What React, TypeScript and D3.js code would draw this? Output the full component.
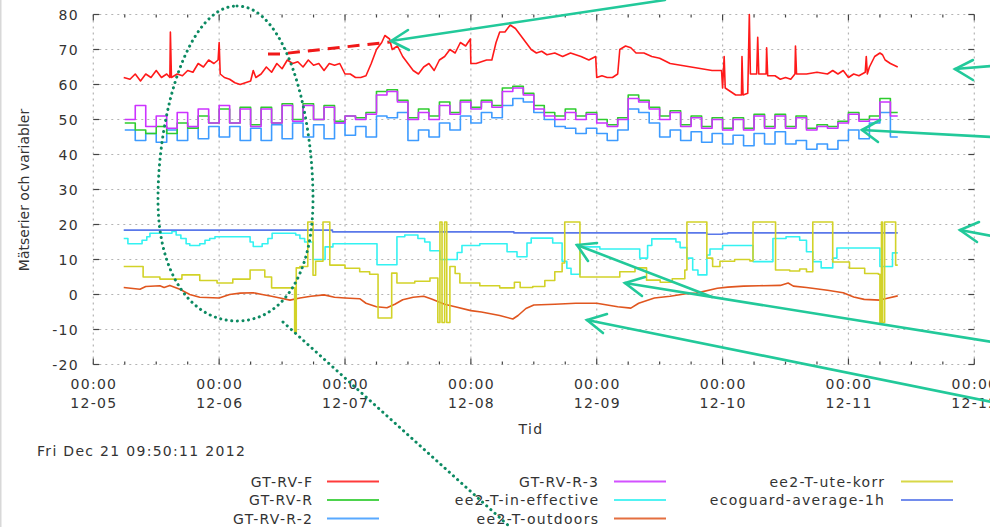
import React from 'react';
import * as d3 from 'd3';

const W = 990, H = 527;

// ---------- axis data ----------
const DAY_LABELS = ['12-05', '12-06', '12-07', '12-08', '12-09', '12-10', '12-11', '12-12'];
const Y_TICKS = [-20, -10, 0, 10, 20, 30, 40, 50, 60, 70, 80];
const TIME_LABEL = '00:00';

// ---------- series (hours since 12-05 00:00) ----------
const END_HOUR = 153.4;
const SAMPLE_START = 6;
const SAMPLE_STEP = 2;

const GT_RV_F: [number, number][] = [
  [5.8, 62], [7, 61.5], [8, 63], [9, 61], [10, 63], [11, 62], [12, 64], [13, 62], [14, 63], [14.6, 62], [14.7, 75], [14.9, 62],
  [16, 63], [17, 62.5], [18, 64], [19, 63.5], [20, 66], [21, 65], [22, 67], [23, 66], [23.8, 67], [24, 72], [24.2, 63],
  [25, 62], [26, 61.5], [27, 60.5], [28, 60], [29, 60.5], [30, 61], [30.5, 64], [31, 62], [32, 63], [33, 65], [34, 63.5],
  [35, 66], [36, 64.5], [37, 67], [38, 66], [39, 66.5], [40, 65], [41, 67], [42, 65.5], [43, 66], [44, 64], [45, 66],
  [46, 65.5], [47, 66], [48, 63], [49, 63], [50, 62], [51, 62], [52, 62.5], [53, 66], [54, 70], [55, 72], [55.6, 74],
  [56.5, 73], [57, 70], [58, 71], [59, 68], [60, 66], [61, 64], [62, 63], [63, 65], [64, 66], [65, 64], [66, 67], [67, 68],
  [68, 70], [69, 69], [70, 72], [71, 71], [71.9, 73], [72, 66], [73, 66], [74, 66.5], [75, 67], [76, 67], [76.8, 72],
  [77.5, 75], [78.5, 75], [79.5, 77], [80.5, 76], [81.5, 74], [82.5, 72], [83.5, 70], [84.5, 69], [85.5, 69.5], [86.5, 68.5],
  [88, 69], [89.5, 68], [91, 69], [93, 68], [94.5, 67], [95.8, 68], [96, 62], [97, 62.5], [98, 62], [99, 62], [100, 63],
  [100.4, 70], [101.5, 71], [102.5, 70.5], [103.5, 69], [105, 69], [106.5, 68], [108, 67.5], [110, 66], [112, 65.5],
  [114, 65], [116, 64.5], [118, 64], [119.8, 64], [120, 59], [120.3, 68], [120.5, 59], [121.5, 58], [122.5, 57],
  [123.6, 57], [123.7, 68], [123.9, 57], [124.8, 57.5], [125.1, 80], [125.3, 63], [126.5, 63], [126.7, 73.5], [126.9, 63],
  [128.3, 63], [128.4, 70.5], [128.6, 62.5], [130, 62.5], [131, 61.5], [132, 62], [133, 61.5], [133.8, 63], [133.9, 71],
  [134.1, 63], [136, 63], [138, 63.5], [140, 63], [141, 64], [142, 63], [143, 64], [144, 62], [145, 63], [146, 62.5],
  [147.2, 63.5], [147.4, 68], [147.6, 63], [148, 65], [149, 68], [150, 69], [150.5, 68.5], [151, 67], [152, 66], [153.4, 65],
];

const GT_RV_R = [
  49, 47, 46, 48, 46, 49, 47.5, 51, 49, 53,
  49, 53.5, 48.5, 53.5, 49, 54.5, 50, 54.5, 50, 54,
  49.5, 51, 50.5, 52, 58, 58.5, 55.5, 50.5, 53, 51,
  55, 52, 55.5, 53.5, 55.5, 54, 59, 59.5, 57.5, 54,
  52, 51, 53, 51, 52, 50, 48.5, 50.5, 57, 55.5,
  53.5, 51, 52.5, 48.5, 51, 48, 50.5, 47.5, 50.5, 47.5,
  51.5, 48, 51.5, 48, 51, 47.5, 48.5, 48, 49.5, 52,
  50, 51, 56, 52,
];

const GT_RV_R_2 = [
  47, 44, 46, 43.5, 47, 44, 47.5, 44.5, 48, 45,
  48, 44, 47.5, 44, 48.5, 44.5, 49, 45, 48.5, 44.5,
  49, 45.5, 48, 45, 51, 50.5, 52, 44, 47, 45,
  49, 47, 51, 49, 52, 50.5, 54, 56, 55, 52,
  50, 48, 47.5, 46, 47.5, 46, 44, 47, 53, 52,
  49, 45, 47, 44, 46.5, 43.5, 46, 43, 45.5, 42.5,
  46, 43, 46.5, 43, 44, 41.5, 43, 41.5, 44, 47,
  44.5, 49, 52, 45,
];

const GT_RV_R_3 = [
  50, 54, 48, 51, 47.5, 52, 48, 53, 49, 54,
  49, 53, 48, 53, 49, 54, 49.5, 54, 50, 53.5,
  49, 51, 50, 51.5, 57, 58, 55, 50, 52, 50,
  54, 51.5, 55, 53, 55, 53.5, 58, 59, 57, 53,
  51, 50, 52, 50, 51.5, 49, 48, 50, 56, 55,
  53, 50, 52, 48, 50.5, 47.5, 50, 47, 50, 47,
  51, 47.5, 51, 47.5, 50.5, 47, 48, 47.5, 49, 51.5,
  49.5, 50, 55, 51,
];

const EE2_T_IN_EFFECTIVE: [number, number][] = [
  [5.8, 16], [6.6, 14.5], [9.3, 15.5], [10.2, 16.5], [10.8, 17.5], [15, 18], [15.8, 17], [16.7, 16], [17.7, 14.5],
  [18.4, 14], [20.3, 14.5], [21.3, 15.5], [22.2, 16], [23.2, 16.5], [29.9, 15], [30.5, 13.7], [32.2, 14.5], [33.3, 16],
  [34.1, 17.5], [38.6, 17], [39.4, 16], [40.3, 15], [41.9, 10], [44.2, 13.6], [45.7, 14.5], [54.1, 8.5], [57.9, 16.5],
  [59.4, 17], [61.9, 16], [63.2, 15], [64.2, 12.5], [66.1, 10], [69.4, 12], [70.3, 14], [73.7, 14.5], [78.9, 12.2],
  [80.8, 10.8], [82.7, 14.7], [83.5, 16.1], [87.6, 14.7], [89.4, 9.5], [90.3, 7.5], [91.1, 5.8], [92.8, 13.6], [96.6, 13],
  [104.2, 10.4], [105.7, 14], [106.5, 15.9], [111.1, 15], [111.9, 13.4], [113.2, 10.4], [114.3, 7], [115.3, 5.6],
  [117, 11.3], [117.6, 13], [120, 14], [125.8, 9.4], [129.6, 16], [132.1, 16.5], [134.7, 15.5], [136, 12.2], [137.2, 9.4],
  [138.8, 7.6], [141, 10.4], [141.8, 13.3], [150, 8], [152.4, 11.9], [153.4, 11.9],
];

const EE2_T_OUTDOORS: [number, number][] = [
  [5.8, 2], [8.9, 1.5], [10, 2.3], [12.7, 2.5], [13.5, 2], [14.6, 2.6], [16.5, 1.5], [18.4, 0], [20.3, -0.8], [24, -1],
  [26, 0], [28, 0.4], [30.5, 0.5], [32.2, 0], [34, -0.5], [35.6, -1], [37.5, -1.6], [39.4, -1], [41.5, -0.5], [44, -0.1],
  [46, -0.8], [48, -1], [50.8, -1.2], [52, -2.5], [54, -3.5], [56, -3.8], [57.5, -2.8], [59, -1.5], [61, -0.8], [63, -0.5],
  [64.5, -1.3], [67, -2.8], [69, -3.5], [72, -4.6], [74, -5], [77.5, -6], [80, -7], [81, -6], [82.5, -4], [84, -3],
  [88, -2.8], [92, -2.5], [96, -2.5], [100, -3.5], [102.5, -3.9], [104, -2.5], [107, -1], [110, -0.5], [113, 0.2],
  [115, 0.4], [119, 1.8], [121, 2.1], [124, 2.4], [127, 2.5], [131, 2.6], [132.5, 3.3], [133.5, 2.4], [136, 2], [140, 1.2],
  [143, 0.5], [145, -0.7], [147, -1.4], [150, -1.6], [151, -1.2], [153.4, -0.4],
];

const EE2_T_UTE_KORR: [number, number][] = [
  [5.8, 8], [9.5, 5], [12.7, 4.4], [16.9, 5.6], [20.3, 4], [23.6, 3.3], [26.6, 4.4], [29.9, 7], [32.7, 5], [34, 1.9],
  [38.4, -11], [38.7, 7.6], [39.4, 8], [40.9, 20.7], [41.9, 5.5], [42.4, 9.5], [43.8, 20.7], [45.1, 8.4], [48, 7.5],
  [50.8, 6.5], [52.7, 5.8], [54.3, -6.7], [56.9, 6.1], [57.9, 3.3], [61.3, 3.8], [64.2, 4.7], [65.7, -8], [66.1, 20.7],
  [66.5, -8], [67, 20.7], [67.4, -8], [68, 8], [69, 6], [69.9, 3.3], [73.7, 2.5], [77.5, 1.9], [80.3, 3.5], [81.4, 2],
  [83.8, 2.3], [86.1, 4], [88, 6.5], [89.4, 9], [89.9, 20.7], [92.8, 5], [100.4, 6.5], [103.3, 7.6], [105.5, 4.1],
  [108.1, 3.5], [110.4, 4.5], [112.8, 7], [113.2, 20.7], [117, 10.4], [118.1, 8], [119.5, 9.5], [122.3, 10],
  [125.2, 9.6], [125.8, 20.7], [130.1, 7], [132.8, 6.7], [134.7, 7.3], [136, 6.5], [137.2, 20.7], [141, 9.3],
  [144.2, 7.5], [147.1, 6], [149.7, 5.8], [150, -8], [150.3, 20.7], [150.5, -8], [150.9, 20.7], [153, 8.4], [153.4, 8.4],
];

const ECOGUARD_AVERAGE_1H: [number, number][] = [
  [5.8, 18.4], [45.6, 17.9], [80.2, 17.6], [117, 17.2], [120, 17.4], [121, 17.6], [153.4, 17.6],
];

const SERIES_NAMES = [
  'GT-RV-F', 'GT-RV-R', 'GT-RV-R-2', 'GT-RV-R-3',
  'ee2-T-in-effective', 'ee2-T-outdoors', 'ee2-T-ute-korr', 'ecoguard-average-1h',
];

const COLORS: Record<string, string> = {
  'GT-RV-F': '#ff1a1a',
  'GT-RV-R': '#2ecc2e',
  'GT-RV-R-2': '#3d9bff',
  'GT-RV-R-3': '#cc33ff',
  'ee2-T-in-effective': '#33f2f2',
  'ee2-T-outdoors': '#e0561f',
  'ee2-T-ute-korr': '#d2d228',
  'ecoguard-average-1h': '#5a78ea',
};

const FONT = 'DejaVu Sans, Verdana, sans-serif';
const TXT = '#333';
const GREEN = '#22c99a';
const DARKGREEN = '#0c8a62';

function sampled(vals: number[]): [number, number][] {
  const pts: [number, number][] = vals.map((v, i) => [SAMPLE_START + i * SAMPLE_STEP, v]);
  pts.push([END_HOUR, vals[vals.length - 1]]);
  return pts;
}

export default function App() {
  const x = d3.scaleLinear().domain([0, 168]).range([93.3, 974.3]);
  const y = d3.scaleLinear().domain([-20, 80]).range([364.5, 14.5]);
  const left = x(0), right = x(168), top = y(80), bottom = y(-20);

  const step = d3.line<[number, number]>().x(d => x(d[0])).y(d => y(d[1])).curve(d3.curveStepAfter);
  const lin = d3.line<[number, number]>().x(d => x(d[0])).y(d => y(d[1]));

  const series: { name: string; d: string }[] = [
    { name: 'GT-RV-F', d: lin(GT_RV_F)! },
    { name: 'GT-RV-R-2', d: step(sampled(GT_RV_R_2))! },
    { name: 'GT-RV-R', d: step(sampled(GT_RV_R))! },
    { name: 'GT-RV-R-3', d: step(sampled(GT_RV_R_3))! },
    { name: 'ee2-T-in-effective', d: step(EE2_T_IN_EFFECTIVE)! },
    { name: 'ee2-T-outdoors', d: lin(EE2_T_OUTDOORS)! },
    { name: 'ecoguard-average-1h', d: step(ECOGUARD_AVERAGE_1H)! },
    { name: 'ee2-T-ute-korr', d: step(EE2_T_UTE_KORR)! },
  ];

  const dayHours = DAY_LABELS.map((_, i) => i * 24);
  const minorHours = d3.range(0, 168 + 1, 6).filter(h => h % 24 !== 0);

  const textStyle = { fontFamily: FONT, fontSize: 14, fill: TXT, letterSpacing: '1.3px' } as const;

  const legendCols = [
    { endX: 312, lineX: 327, names: SERIES_NAMES.slice(0, 3) },
    { endX: 598, lineX: 614, names: SERIES_NAMES.slice(3, 6) },
    { endX: 884, lineX: 901, names: SERIES_NAMES.slice(6, 8) },
  ];
  const legendRows = [486.5, 505, 523.5];

  const arrow = (tx: number, ty: number, ex: number, ey: number, w1: [number, number], w2: [number, number], key: string) => (
    <g key={key} stroke={GREEN} strokeWidth={2.6} fill="none" strokeLinecap="round">
      <line x1={tx} y1={ty} x2={ex} y2={ey} />
      <polyline points={`${w1[0]},${w1[1]} ${tx},${ty} ${w2[0]},${w2[1]}`} />
    </g>
  );

  return (
    <svg width={W} height={H} style={{ position: 'absolute', left: 0, top: 0, background: '#fff' }}>
      <rect x={0} y={0} width={W} height={H} fill="#fff" />
      <line x1={0.5} y1={0} x2={0.5} y2={H} stroke="#d8d8d8" strokeWidth={2} />

      {/* grid */}
      <g stroke="#b4b4b4" strokeWidth={1.2} strokeDasharray="2,4">
        {Y_TICKS.map(t => (
          <line key={'gy' + t} x1={left} x2={right} y1={y(t)} y2={y(t)} />
        ))}
        {dayHours.map(h => (
          <line key={'gx' + h} x1={x(h)} x2={x(h)} y1={top} y2={bottom} />
        ))}
      </g>

      {/* ticks */}
      <g stroke="#444" strokeWidth={1.2}>
        {Y_TICKS.map(t => (
          <g key={'ty' + t}>
            <line x1={left} x2={left + 6} y1={y(t)} y2={y(t)} />
            <line x1={right - 6} x2={right} y1={y(t)} y2={y(t)} />
          </g>
        ))}
        {dayHours.map(h => (
          <g key={'tx' + h}>
            <line x1={x(h)} x2={x(h)} y1={bottom} y2={bottom - 6} />
            <line x1={x(h)} x2={x(h)} y1={top} y2={top + 6} />
          </g>
        ))}
        {minorHours.map(h => (
          <g key={'mx' + h}>
            <line x1={x(h)} x2={x(h)} y1={bottom} y2={bottom - 3} />
            <line x1={x(h)} x2={x(h)} y1={top} y2={top + 3} />
          </g>
        ))}
      </g>

      {/* y tick labels */}
      {Y_TICKS.map(t => (
        <text key={'ly' + t} x={79} y={y(t) + 5} textAnchor="end" style={{ ...textStyle }}>{t}</text>
      ))}
      {/* x tick labels */}
      {DAY_LABELS.map((lab, i) => (
        <g key={'lx' + lab}>
          <text x={x(i * 24) + 0.6} y={389} textAnchor="middle" style={{ ...textStyle }}>{TIME_LABEL}</text>
          <text x={x(i * 24) + 0.6} y={407.5} textAnchor="middle" style={{ ...textStyle }}>{lab}</text>
        </g>
      ))}

      <text x={531} y={434} textAnchor="middle" style={{ ...textStyle }}>Tid</text>
      <text transform="translate(29,190) rotate(-90)" textAnchor="middle" style={{ fontFamily: FONT, fontSize: 14, fill: TXT }}>
        Mätserier och variabler
      </text>
      <text x={37} y={455.5} style={{ ...textStyle }}>Fri Dec 21 09:50:11 2012</text>

      {/* series */}
      <g fill="none" strokeWidth={1.6} strokeLinejoin="round">
        {series.map(s => (
          <path key={s.name} d={s.d} stroke={COLORS[s.name]} />
        ))}
      </g>

      {/* legend */}
      {legendCols.map((col, ci) => (
        <g key={'lc' + ci}>
          {col.names.map((n, ri) => (
            <g key={n}>
              <text x={col.endX + 1.3} y={legendRows[ri]} textAnchor="end" style={{ ...textStyle }}>{n}</text>
              <line x1={col.lineX} x2={col.lineX + 52} y1={legendRows[ri] - 5} y2={legendRows[ri] - 5}
                stroke={COLORS[n]} strokeWidth={2.2} opacity={0.85} />
            </g>
          ))}
        </g>
      ))}

      {/* annotations */}
      <path d="M237,6 C285,6 313,110 313,200 C313,275 282,321 237,321 C192,321 158,275 158,200 C158,110 189,6 237,6 Z"
        fill="none" stroke={DARKGREEN} strokeWidth={3} strokeDasharray="0.1,5.5" strokeLinecap="round" />
      <line x1={283} y1={322} x2={510} y2={527} stroke={DARKGREEN} strokeWidth={3} strokeDasharray="0.1,5.5" strokeLinecap="round" />
      <path d="M268,54 L280,54 L390,42" fill="none" stroke="#f01818" strokeWidth={3} strokeDasharray="12,8" />

      {arrow(391, 41, 665, 0, [408, 30], [409, 50], 'a1')}
      {arrow(955, 69, 992, 66, [973, 60], [973, 80], 'a2')}
      {arrow(862, 130, 992, 137, [880, 120], [878, 142], 'a3')}
      {arrow(960, 230, 992, 236, [979, 222], [977, 242], 'a4')}
      {arrow(577, 245, 712, 297, [597, 243], [588, 261], 'a5')}
      {arrow(625, 283, 992, 342, [645, 277], [642, 296], 'a6')}
      {arrow(587, 320, 992, 402, [607, 314], [603, 333], 'a7')}
    </svg>
  );
}
